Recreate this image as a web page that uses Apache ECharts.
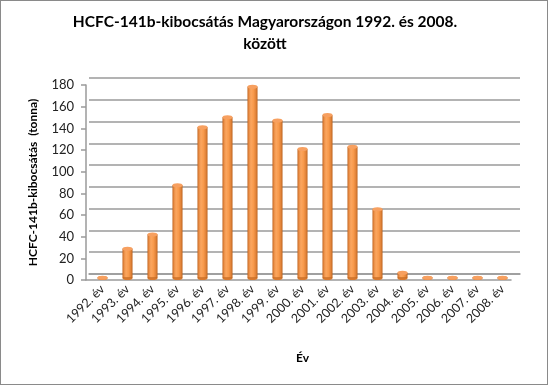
<!DOCTYPE html>
<html>
<head>
<meta charset="utf-8">
<script src="https://cdn.jsdelivr.net/npm/echarts@6/dist/echarts.min.js"></script>
<style>
html,body{margin:0;padding:0;background:#fff;}
#c{width:548px;height:385px;box-sizing:border-box;border:1px solid #8a8a8a;}
</style>
</head>
<body>
<div id="c"></div>
<script>
const categories = ['1992. év','1993. év','1994. év','1995. év','1996. év','1997. év','1998. év','1999. év','2000. év','2001. év','2002. év','2003. év','2004. év','2005. év','2006. év','2007. év','2008. év'];
const emissions = [0.5, 27, 40, 85, 138, 147, 175, 144, 118, 149, 120, 63, 5, 0.3, 0.3, 0.3, 0.3];
const yTicks = [0, 20, 40, 60, 80, 100, 120, 140, 160, 180];

const FONT = 'Lato';
const chart = echarts.init(document.getElementById('c'), null, {renderer: 'canvas'});
const barColor = {
  type: 'linear', x: 0, y: 0, x2: 1, y2: 0,
  colorStops: [
    {offset: 0, color: '#d9782f'},
    {offset: 0.35, color: '#fba65f'},
    {offset: 0.6, color: '#f89a4c'},
    {offset: 1, color: '#d0722b'}
  ]
};
chart.setOption({
  animation: false,
  title: {
    text: 'HCFC-141b-kibocsátás Magyarországon 1992. és 2008.\nközött',
    left: 259, top: 5, textAlign: 'center',
    textStyle: {fontFamily: FONT, fontWeight: 'bold', fontSize: 15.5, color: '#000', lineHeight: 22}
  },
  grid: [
    {left: 88, right: 27, top: 77, bottom: 110},
    {left: 89, right: 32, top: 80, bottom: 106},
    {left: 85, right: 36, top: 84, bottom: 104}
  ],
  xAxis: [
    {gridIndex: 0, type: 'category', data: categories, axisLine: {show: true, lineStyle: {color: '#9a9a9a', width: 1.5}}, axisTick: {show: false}, axisLabel: {show: false}},
    {gridIndex: 1, type: 'category', data: categories, axisLine: {show: false}, axisTick: {show: false},
      axisLabel: {rotate: 45, interval: 0, margin: 9, fontFamily: FONT, fontSize: 12.5, color: '#222'},
      name: 'Év', nameLocation: 'middle', nameGap: 74,
      nameTextStyle: {fontFamily: FONT, fontWeight: 'bold', fontSize: 12, color: '#000'}},
    {gridIndex: 2, type: 'category', data: categories, axisLine: {show: true, lineStyle: {color: '#9a9a9a', width: 1.5}}, axisTick: {show: false}, axisLabel: {show: false}}
  ],
  yAxis: [
    {gridIndex: 0, type: 'value', min: 0, max: 180, interval: 20, axisLine: {show: false}, axisTick: {show: false}, axisLabel: {show: false},
      splitLine: {show: true, lineStyle: {color: '#9a9a9a', width: 1.5}}},
    {gridIndex: 1, type: 'value', min: 0, max: 180, interval: 20, show: false},
    {gridIndex: 2, type: 'value', min: 0, max: 180, interval: 20,
      axisLine: {show: true, lineStyle: {color: '#9a9a9a', width: 1.5}},
      axisTick: {show: true, inside: false, length: 5, lineStyle: {color: '#9a9a9a', width: 1.5}},
      splitLine: {show: false},
      axisLabel: {margin: 12, fontFamily: FONT, fontSize: 13, color: '#222',
        formatter: v => yTicks.includes(v) ? String(v) : ''},
      name: 'HCFC-141b-kibocsátás  (tonna)', nameLocation: 'middle', nameGap: 47, nameRotate: 90,
      nameTextStyle: {fontFamily: FONT, fontWeight: 'bold', fontSize: 12, color: '#000'}}
  ],
  series: [
    {type: 'bar', xAxisIndex: 1, yAxisIndex: 1, data: emissions, barWidth: 10,
      itemStyle: {color: barColor, borderColor: '#b8621f', borderWidth: 0.6}, z: 3},
    {type: 'pictorialBar', xAxisIndex: 1, yAxisIndex: 1, data: emissions, symbol: 'circle',
      symbolSize: [10, 4], symbolPosition: 'end', symbolOffset: [0, '-50%'],
      itemStyle: {color: '#f7a060', borderColor: '#b8621f', borderWidth: 0.6}, z: 4},
    {type: 'pictorialBar', xAxisIndex: 1, yAxisIndex: 1, data: emissions, symbol: 'circle',
      symbolSize: [10, 4], symbolPosition: 'start', symbolOffset: [0, '50%'],
      itemStyle: {color: '#d97a30'}, z: 2}
  ]
});
</script>
</body>
</html>
